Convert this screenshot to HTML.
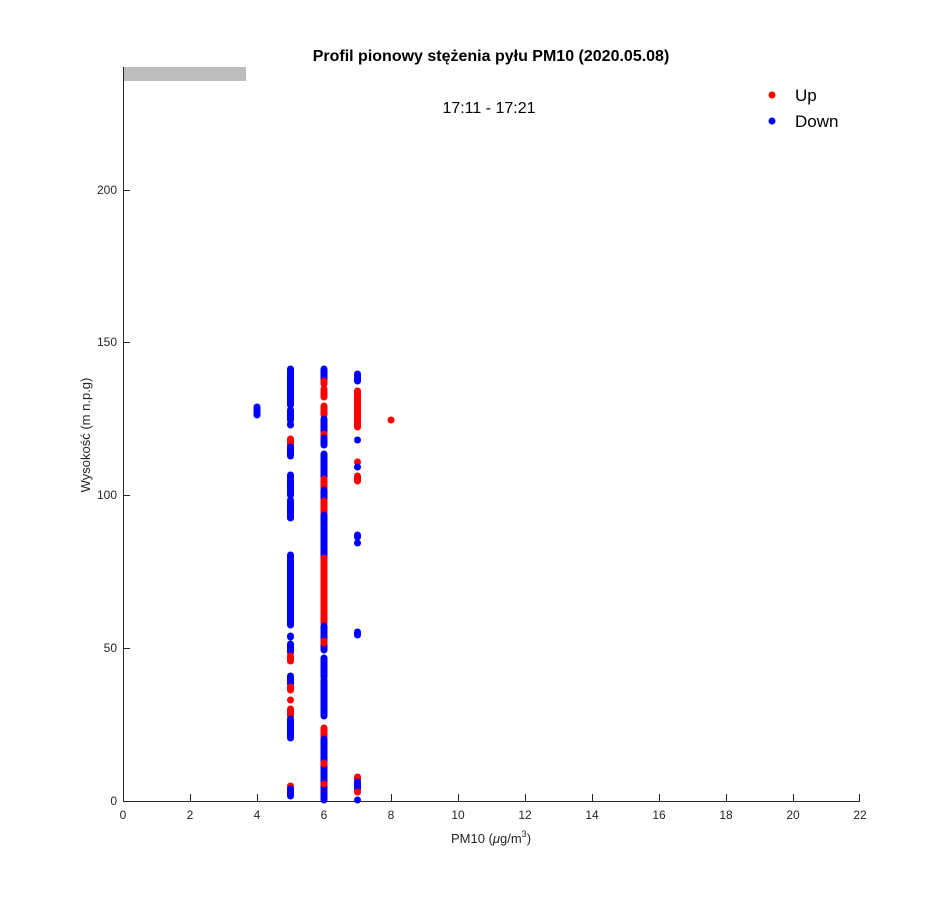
<!DOCTYPE html>
<html><head><meta charset="utf-8"><style>body{margin:0;background:#fff}svg{display:block}text{font-family:"Liberation Sans",sans-serif}</style></head><body>
<svg width="950" height="900" xmlns="http://www.w3.org/2000/svg">
<rect width="950" height="900" fill="#fff"/>
<rect x="123" y="67" width="123" height="14" fill="#bdbdbd"/>
<g stroke="#262626" stroke-width="1" fill="none">
<line x1="123" y1="801.5" x2="860" y2="801.5"/>
<line x1="123.5" y1="67" x2="123.5" y2="801"/>
</g>
<g stroke="#262626" stroke-width="1">
<line x1="123" y1="190.5" x2="130" y2="190.5"/><line x1="123" y1="342.5" x2="130" y2="342.5"/><line x1="123" y1="495.5" x2="130" y2="495.5"/><line x1="123" y1="648.5" x2="130" y2="648.5"/>
<line x1="190.5" y1="801" x2="190.5" y2="794"/><line x1="257.5" y1="801" x2="257.5" y2="794"/><line x1="324.5" y1="801" x2="324.5" y2="794"/><line x1="391.5" y1="801" x2="391.5" y2="794"/><line x1="458.5" y1="801" x2="458.5" y2="794"/><line x1="525.5" y1="801" x2="525.5" y2="794"/><line x1="592.5" y1="801" x2="592.5" y2="794"/><line x1="659.5" y1="801" x2="659.5" y2="794"/><line x1="726.5" y1="801" x2="726.5" y2="794"/><line x1="793.5" y1="801" x2="793.5" y2="794"/><line x1="859.5" y1="801" x2="859.5" y2="794"/>
</g>
<g font-size="12" fill="#262626" text-anchor="end">
<text x="117" y="805">0</text><text x="117" y="652">50</text><text x="117" y="499">100</text><text x="117" y="346">150</text><text x="117" y="194">200</text>
</g>
<g font-size="12" fill="#262626" text-anchor="middle">
<text x="123" y="819">0</text><text x="190" y="819">2</text><text x="257" y="819">4</text><text x="324" y="819">6</text><text x="391" y="819">8</text><text x="458" y="819">10</text><text x="525" y="819">12</text><text x="592" y="819">14</text><text x="659" y="819">16</text><text x="726" y="819">18</text><text x="793" y="819">20</text><text x="860" y="819">22</text>
</g>
<text x="491" y="843" font-size="13" fill="#262626" text-anchor="middle">PM10 (<tspan font-style="italic">μ</tspan>g/m<tspan font-size="9" dy="-6">3</tspan><tspan dy="6">)</tspan></text>
<text transform="translate(90,435) rotate(-90)" font-size="13" fill="#262626" text-anchor="middle">Wysokość (m n.p.g)</text>
<text x="491" y="61" font-size="16" font-weight="bold" text-anchor="middle">Profil pionowy stężenia pyłu PM10 (2020.05.08)</text>
<text x="489" y="113" font-size="16" text-anchor="middle">17:11 - 17:21</text>
<circle cx="772" cy="95" r="3.5" fill="#f00"/><text x="795" y="101" font-size="17">Up</text>
<circle cx="772" cy="121" r="3.5" fill="#00f"/><text x="795" y="127" font-size="17">Down</text>
<g stroke-width="7" stroke-linecap="round">
<line x1="257" y1="407" x2="257" y2="415" stroke="#00f"/>
<g stroke="#00f">
<line x1="290.5" y1="369" x2="290.5" y2="405"/><line x1="290.5" y1="410" x2="290.5" y2="420"/><line x1="290.5" y1="424" x2="290.5" y2="425"/>
<line x1="290.5" y1="439" x2="290.5" y2="445" stroke="#f00"/><line x1="290.5" y1="447" x2="290.5" y2="456"/>
<line x1="290.5" y1="475" x2="290.5" y2="495"/><line x1="290.5" y1="500" x2="290.5" y2="518"/>
<line x1="290.5" y1="555" x2="290.5" y2="625"/><line x1="290.5" y1="636" x2="290.5" y2="637"/><line x1="290.5" y1="644" x2="290.5" y2="652"/>
<line x1="290.5" y1="656" x2="290.5" y2="661" stroke="#f00"/>
<line x1="290.5" y1="676" x2="290.5" y2="684"/><line x1="290.5" y1="687" x2="290.5" y2="690" stroke="#f00"/>
<line x1="290.5" y1="700" x2="290.5" y2="700" stroke="#f00"/><line x1="290.5" y1="709" x2="290.5" y2="716" stroke="#f00"/>
<line x1="290.5" y1="719" x2="290.5" y2="738"/>
<line x1="290.5" y1="786" x2="290.5" y2="787" stroke="#f00"/><line x1="290.5" y1="789" x2="290.5" y2="796"/>
</g>
<g stroke="#00f">
<line x1="324" y1="369" x2="324" y2="380"/><line x1="324" y1="381" x2="324" y2="384" stroke="#f00"/>
<line x1="324" y1="389" x2="324" y2="397" stroke="#f00"/><line x1="324" y1="406" x2="324" y2="415" stroke="#f00"/>
<line x1="324" y1="419" x2="324" y2="432"/><line x1="324" y1="434" x2="324" y2="437" stroke="#f00"/><line x1="324" y1="438" x2="324" y2="445"/>
<line x1="324" y1="454" x2="324" y2="477"/><line x1="324" y1="479" x2="324" y2="488" stroke="#f00"/>
<line x1="324" y1="490" x2="324" y2="500"/><line x1="324" y1="501" x2="324" y2="513" stroke="#f00"/>
<line x1="324" y1="515" x2="324" y2="557"/><line x1="324" y1="558" x2="324" y2="623" stroke="#f00"/>
<line x1="324" y1="626" x2="324" y2="650"/><line x1="324" y1="641" x2="324" y2="643" stroke="#f00"/>
<line x1="324" y1="658" x2="324" y2="677"/><line x1="324" y1="680" x2="324" y2="716"/>
<line x1="324" y1="728" x2="324" y2="737" stroke="#f00"/>
<line x1="324" y1="739" x2="324" y2="800"/><line x1="324" y1="763" x2="324" y2="764" stroke="#f00"/><line x1="324" y1="784" x2="324" y2="784" stroke="#f00"/>
</g>
<g stroke="#00f">
<line x1="357.5" y1="374" x2="357.5" y2="381"/><line x1="357.5" y1="391" x2="357.5" y2="427" stroke="#f00"/>
<line x1="357.5" y1="440" x2="357.5" y2="440"/><line x1="357.5" y1="462" x2="357.5" y2="462" stroke="#f00"/><line x1="357.5" y1="467" x2="357.5" y2="467"/>
<line x1="357.5" y1="476" x2="357.5" y2="481" stroke="#f00"/>
<line x1="357.5" y1="535" x2="357.5" y2="537"/><line x1="357.5" y1="543" x2="357.5" y2="543"/>
<line x1="357.5" y1="632" x2="357.5" y2="635"/>
<line x1="357.5" y1="777" x2="357.5" y2="780" stroke="#f00"/><line x1="357.5" y1="782" x2="357.5" y2="789"/><line x1="357.5" y1="792" x2="357.5" y2="792" stroke="#f00"/><line x1="357.5" y1="800" x2="357.5" y2="800"/>
</g>
<line x1="391" y1="420" x2="391" y2="420" stroke="#f00"/>
</g>
</svg>
</body></html>
